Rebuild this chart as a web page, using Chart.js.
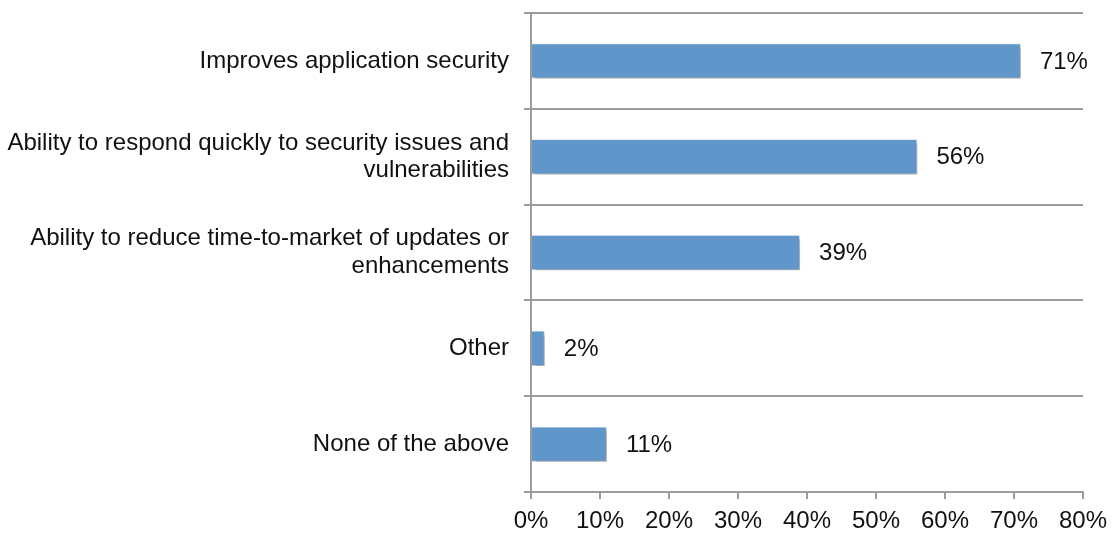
<!DOCTYPE html>
<html>
<head>
<meta charset="utf-8">
<title>Benefits</title>
<script src="https://cdn.jsdelivr.net/npm/chart.js@4/dist/chart.umd.min.js"></script>
<style>
    html, body { margin: 0; padding: 0; background: #ffffff; }
    #wrap { width: 1115px; height: 535px; position: relative; }
</style>
</head>
<body>
<div id="wrap"><canvas id="benefitChart"></canvas></div>
<script>
// ==========================================
// DATA
// ==========================================

const categories = [
    'Improves application security',
    ['Ability to respond quickly to security issues and', 'vulnerabilities'],
    ['Ability to reduce time-to-market of updates or', 'enhancements'],
    'Other',
    'None of the above'
];
const percentValues = [71, 56, 39, 2, 11];
const axisTicks = [0, 10, 20, 30, 40, 50, 60, 70, 80];

const FONT = '"Liberation Sans", Arial, Helvetica, sans-serif';
const GRID_GRAY = '#9c9c9c';

// ==========================================
// PLUGINS
// ==========================================

// soft drop shadow under the bars
const barShadow = {
    id: 'barShadow',
    beforeDatasetsDraw(chart) {
        const ctx = chart.ctx;
        ctx.save();
        ctx.shadowColor = 'rgba(0, 0, 0, 0.35)';
        ctx.shadowBlur = 4;
        ctx.shadowOffsetX = 2;
        ctx.shadowOffsetY = 3;
    },
    afterDatasetsDraw(chart) {
        chart.ctx.restore();
    }
};

// percent text to the right of each bar
const valueLabels = {
    id: 'valueLabels',
    afterDraw(chart) {
        const ctx = chart.ctx;
        const meta = chart.getDatasetMeta(0);
        ctx.save();
        ctx.font = '24px ' + FONT;
        ctx.fillStyle = '#111111';
        ctx.textAlign = 'left';
        ctx.textBaseline = 'middle';
        meta.data.forEach((bar, i) => {
            ctx.fillText(percentValues[i] + '%', bar.x + 19, bar.y + 1);
        });
        ctx.restore();
    }
};

// ==========================================
// CHART
// ==========================================

function initBenefitChart() {
    const ctx = document.getElementById('benefitChart');

    new Chart(ctx, {
        type: 'bar',
        data: {
            labels: categories,
            datasets: [{
                data: percentValues,
                backgroundColor: '#6096c9',
                borderColor: 'rgba(235, 242, 250, 0.9)',
                borderWidth: 1,
                categoryPercentage: 1,
                barPercentage: 0.37
            }]
        },
        options: {
            indexAxis: 'y',
            responsive: true,
            maintainAspectRatio: false,
            animation: false,
            layout: {
                padding: { top: 13, right: 30, bottom: 0, left: 0 }
            },
            plugins: {
                legend: { display: false },
                tooltip: { enabled: false }
            },
            scales: {
                x: {
                    min: 0,
                    max: 80,
                    afterBuildTicks: (scale) => {
                        scale.ticks = axisTicks.map(v => ({ value: v }));
                    },
                    afterFit: (scale) => { scale.height = 43; },
                    grid: {
                        drawOnChartArea: false,
                        drawTicks: true,
                        tickLength: 7,
                        color: GRID_GRAY,
                        lineWidth: 2
                    },
                    border: { display: true, color: GRID_GRAY, width: 2 },
                    ticks: {
                        padding: 8,
                        color: '#111111',
                        font: { family: FONT, size: 24, lineHeight: 1.2 },
                        maxRotation: 0,
                        callback: (v) => v + '%'
                    }
                },
                y: {
                    afterFit: (scale) => {
                        scale.width = 531;
                        // the top grid line sits right under the layout padding
                        scale.paddingTop = 0;
                        scale.paddingBottom = 0;
                    },
                    grid: {
                        offset: true,
                        drawTicks: true,
                        tickLength: 7,
                        color: GRID_GRAY,
                        lineWidth: 2
                    },
                    border: { display: true, color: GRID_GRAY, width: 2 },
                    ticks: {
                        padding: 15,
                        color: '#111111',
                        font: { family: FONT, size: 24, lineHeight: 1.15 }
                    }
                }
            }
        },
        plugins: [barShadow, valueLabels]
    });
}

document.addEventListener('DOMContentLoaded', initBenefitChart);
</script>
</body>
</html>
